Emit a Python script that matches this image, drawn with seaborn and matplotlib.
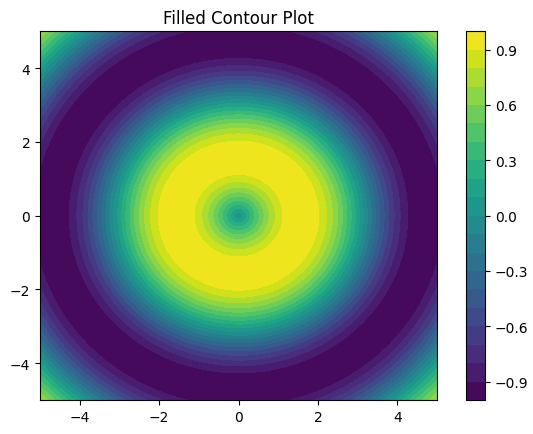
import numpy as np
import matplotlib
matplotlib.use('Agg')
import matplotlib.pyplot as plt
import seaborn as sns

# grid of the surface z = sin(r)
x_vals = np.linspace(-5, 5, 200)
y_vals = np.linspace(-5, 5, 200)
n_levels = 20
cbar_ticks = [-0.9, -0.6, -0.3, 0.0, 0.3, 0.6, 0.9]
axis_ticks = [-4, -2, 0, 2, 4]

X, Y = np.meshgrid(x_vals, y_vals)
Z = np.sin(np.sqrt(X ** 2 + Y ** 2))

cmap = sns.color_palette('viridis', as_cmap=True)

fig = plt.figure(figsize=(5.33, 4.35), dpi=100)
ax = fig.add_axes([0.075, 0.078, 0.745, 0.848])
cax = fig.add_axes([0.874, 0.078, 0.036, 0.848])

cs = ax.contourf(X, Y, Z, levels=n_levels, cmap=cmap)
ax.set_title('Filled Contour Plot')
ax.set_xticks(axis_ticks)
ax.set_yticks(axis_ticks)
cb = fig.colorbar(cs, cax=cax)
cb.set_ticks(cbar_ticks)

fig.savefig('out.png', dpi=100)
